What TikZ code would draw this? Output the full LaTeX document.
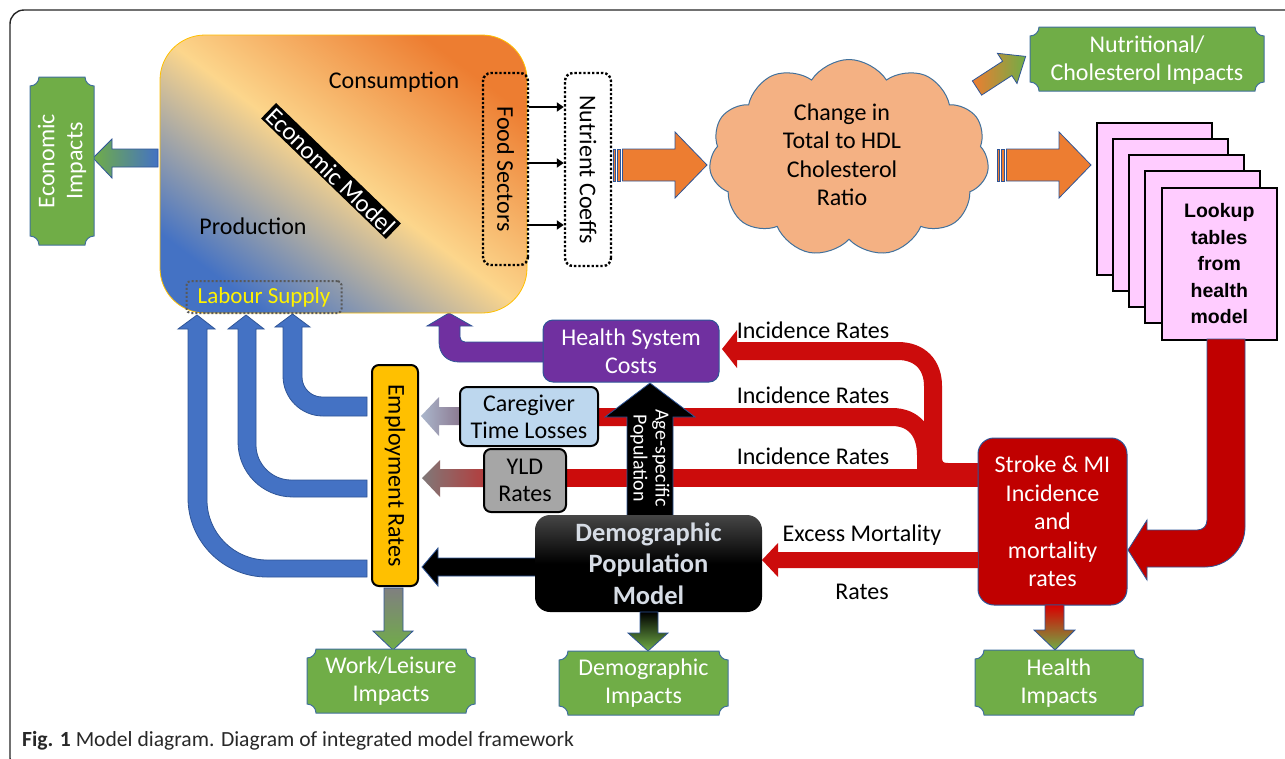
\documentclass[tikz,border=0pt]{standalone}
\usepackage{fontspec}
\setmainfont{Carlito}
\newfontfamily\arialfont{Liberation Sans}
\usetikzlibrary{shapes.symbols,arrows.meta}
\definecolor{pgreen}{RGB}{112,173,71}
\definecolor{pborder}{RGB}{65,113,156}
\definecolor{ecoblue}{RGB}{68,114,196}
\definecolor{ecoorange}{RGB}{237,125,49}
\definecolor{paleyel}{RGB}{252,214,140}
\definecolor{cloudfill}{RGB}{244,177,131}
\definecolor{stroker}{RGB}{192,0,0}
\definecolor{lred}{RGB}{204,12,12}
\definecolor{hpurple}{RGB}{112,48,160}
\definecolor{ltblue}{RGB}{189,215,238}
\definecolor{yldgray}{RGB}{166,166,166}
\definecolor{empyel}{RGB}{255,192,0}
\definecolor{pinkpage}{RGB}{255,204,255}
\definecolor{demotext}{RGB}{214,220,229}
\definecolor{bordblue}{RGB}{47,85,151}
\definecolor{capgray}{RGB}{40,40,40}
\newcommand\fsz[2]{\fontsize{#1}{#2}\selectfont}
\newcommand\plaque[4]{\draw[plaque] (#1+9,#2) -- (#3-9,#2) .. controls (#3-9,#2+5) and (#3-5,#2+9) .. (#3,#2+9) -- (#3,#4-9) .. controls (#3-5,#4-9) and (#3-9,#4-5) .. (#3-9,#4) -- (#1+9,#4) .. controls (#1+9,#4-5) and (#1+5,#4-9) .. (#1,#4-9) -- (#1,#2+9) .. controls (#1+5,#2+9) and (#1+9,#2+5) .. (#1+9,#2) -- cycle;}
\begin{document}
\begin{tikzpicture}[x=1pt,y=-1pt,
  plaque/.style={fill=pgreen,draw=pborder,line width=1},
  ptext/.style={text=white,align=center,font=\fsz{24}{28}},
  barrow/.style={draw=bordblue,line width=0.8},
  redline/.style={draw=lred,line width=18},
  smallarr/.style={-{Triangle[length=7,width=9]},line width=2.4},
  box/.style={draw=black,line width=2,rounded corners=7,inner sep=0,align=center,font=\fsz{24}{27}},
  page/.style={fill=pinkpage,draw=black,line width=1.6},
  lbl/.style={font=\fsz{24}{28}}]
\useasboundingbox (0,0) rectangle (1285,758);
\clip (0,0) rectangle (1285,758);
\fill[white] (0,0) rectangle (1285,758);
% frame
\draw[line width=1.4,black!85,rounded corners=14] (10,10) rectangle (1310,772);

% blue arrows to labour supply
\filldraw[fill=ecoblue,barrow] (367,397) -- (322,397) .. controls (311,397) and (302,388) .. (302,377) -- (302,327) -- (310,327) -- (292.5,314) -- (275,327) -- (283,327) -- (283,376) .. controls (283,398) and (301,416) .. (323,416) -- (367,416) -- cycle;
\filldraw[fill=ecoblue,barrow] (367,480) -- (291,480) .. controls (272,480) and (256,464) .. (256,445) -- (256,329) -- (264,329) -- (246,315) -- (228,329) -- (238,329) -- (238,442) .. controls (238,472) and (262,497) .. (293,497) -- (367,497) -- cycle;
\filldraw[fill=ecoblue,barrow] (367,560) -- (267,560) .. controls (234,560) and (207,533) .. (207,500) -- (207,329) -- (215,329) -- (197,315) -- (178,329) -- (188,329) -- (188,498) .. controls (188,541) and (223,577) .. (267,577) -- (367,577) -- cycle;
% purple arrow
\filldraw[fill=hpurple,barrow] (545,342) -- (465,342) .. controls (462,342) and (460,340) .. (460,337) -- (460,326) -- (472,326) -- (449,313) -- (427,326) -- (439,326) -- (439,342) .. controls (439,354) and (447,362) .. (459,362) -- (545,362) -- cycle;

% economic model
\shadedraw[draw=empyel,line width=0.8,rounded corners=45,top color=ecoorange,bottom color=ecoblue,middle color=paleyel,shading angle=-37] (160,35) rectangle (527,313);
\node[lbl] (cons) at (394,82) {Consumption};
\node[lbl] (prod) at (253,226) {Production};
\node[fill=black,text=white,rotate=-44,inner sep=2,font=\fsz{25}{28}] (econ) at (331,171) {Economic Model};
\node[draw=black!65,dotted,line width=2,rounded corners=4,minimum width=155,minimum height=32,text=yellow,font=\fsz{23}{26}] (labour) at (264,297) {Labour Supply};

% economic impacts
\shadedraw[left color=pgreen,right color=ecoblue,barrow] (158,149) -- (112,149) -- (112,139) -- (93,158) -- (112,178) -- (112,167) -- (158,167) -- cycle;
\plaque{30}{77}{94}{245}
\node[ptext,rotate=90] (econimp) at (62,161) {Economic\\Impacts};

% food sectors / nutrient coeffs
\node[draw=black,dotted,line width=2.4,rounded corners=8,rotate=-90,minimum width=192,minimum height=45,inner sep=0,font=\fsz{24}{26}] (food) at (505.5,169) {Food Sectors};
\node[draw=black,dotted,line width=2.4,rounded corners=8,fill=white,rotate=-90,minimum width=193,minimum height=46,inner sep=0,font=\fsz{24}{26}] (nut) at (588,169.5) {Nutrient Coeffs};
\coordinate (r1) at (0,107);
\coordinate (r2) at (0,163);
\coordinate (r3) at (0,225);
\draw[smallarr] (food.north |- r1) -- (nut.south |- r1);
\draw[smallarr] (food.north |- r2) -- (nut.south |- r2);
\draw[smallarr] (food.north |- r3) -- (nut.south |- r3);

% orange arrow 1
\filldraw[fill=ecoorange,barrow] (613,149) rectangle (615.5,181);
\filldraw[fill=ecoorange,barrow] (617.5,149) rectangle (620.5,181);
\filldraw[fill=ecoorange,barrow] (622.5,149) -- (675,149) -- (675,132) -- (707,165) -- (675,198) -- (675,181) -- (622.5,181) -- cycle;
% cloud
\node[cloud,cloud puffs=11,cloud puff arc=115,cloud ignores aspect,minimum width=280,minimum height=197,fill=cloudfill,draw=pborder,line width=1,inner sep=0] (cloud) at (849,158) {};
\node[align=center,font=\fsz{24}{28.5}] (cloudtxt) at (842,155) {Change in\\Total to HDL\\Cholesterol\\Ratio};
% orange arrow 2
\filldraw[fill=ecoorange,barrow] (997,149) rectangle (999.5,181);
\filldraw[fill=ecoorange,barrow] (1001.5,149) rectangle (1004.5,181);
\filldraw[fill=ecoorange,barrow] (1006.5,149) -- (1059,149) -- (1059,132) -- (1091,165) -- (1059,198) -- (1059,181) -- (1006.5,181) -- cycle;
% nutritional arrow
\begin{scope}[shift={(977,88)},rotate=33]
\shadedraw[left color=ecoorange,right color=pgreen,barrow] (0,-8.5) -- (36,-8.5) -- (36,-18) -- (58,0) -- (36,18) -- (36,8.5) -- (0,8.5) -- cycle;
\end{scope}
\plaque{1030}{27}{1264}{91}
\node[ptext] (nutimp) at (1147,60) {Nutritional/\\Cholesterol Impacts};

% lookup tables
\foreach \i in {0,...,3} \draw[page] (1097+16*\i,123+16*\i) rectangle ++(115,152);
\node[page,minimum width=115,minimum height=152,anchor=north west,inner sep=0,align=center,font=\arialfont\bfseries\fsz{19.5}{26.5}] (lookup) at (1161,187) {Lookup\\tables\\from\\health\\model};

% red arrow lookup -> stroke
\filldraw[fill=stroker,barrow] (1207,339) -- (1245,339) -- (1245,527) .. controls (1245,549) and (1227,567) .. (1205,567) -- (1147,567) -- (1147,580) -- (1128,550) -- (1147,520) -- (1147,530) -- (1197,530) .. controls (1203,530) and (1207,526) .. (1207,520) -- cycle;

% red incidence lines
\draw[redline] (985,472) -- (948,472) .. controls (938,472) and (933,467) .. (933,457) -- (933,386) .. controls (933,365) and (920,351) .. (898,351) -- (735,351);
\fill[lred] (737,330) -- (722,349) -- (737,368) -- cycle;
\draw[redline] (926,478) -- (926,455) .. controls (926,432) and (914,417) .. (892,417) -- (590,417);
\draw[redline] (985,478) -- (560,478);
\node[lbl] (inc1) at (813,330) {Incidence Rates};
\node[lbl] (inc2) at (813,395) {Incidence Rates};
\node[lbl] (inc3) at (813,456) {Incidence Rates};

% stroke box
\node[fill=stroker,draw=bordblue,line width=1,rounded corners=16,minimum width=149,minimum height=167,inner sep=0,align=center,text=white,font=\fsz{24}{28.5}] (stroke) at (1052.5,521.5) {Stroke \& MI\\Incidence\\and\\mortality\\rates};
% excess mortality arrow
\fill[lred] (978,552) -- (778,552) -- (778,543) -- (762,560) -- (778,577) -- (778,568) -- (978,568) -- cycle;
\node[lbl] (exc) at (862,535) {Excess Mortality};
\node[lbl] (rat) at (862,592) {Rates};
% health impacts
\shadedraw[top color=red!85!black,bottom color=pgreen,barrow] (1045,605) -- (1064,605) -- (1064,630) -- (1075,630) -- (1055,650) -- (1034,630) -- (1045,630) -- cycle;
\plaque{975}{650}{1143}{715}
\node[ptext] (healthimp) at (1059,683) {Health\\Impacts};

% health system costs
\node[fill=hpurple,draw=bordblue,line width=1,rounded corners=10,minimum width=176,minimum height=62,inner sep=0,align=center,text=white,font=\fsz{24}{28}] (hsc) at (631,351) {Health System\\Costs};
% caregiver
\shadedraw[left color={rgb,255:red,170;green,182;blue,204},right color={rgb,255:red,140;green,122;blue,145},draw=none] (460,407) -- (439,407) -- (439,397) -- (421,416) -- (439,436) -- (439,425) -- (460,425) -- cycle;
\node[box,fill=ltblue,minimum width=138,minimum height=59] (care) at (529,416.5) {Caregiver\\Time Losses};
% YLD
\shadedraw[left color={rgb,255:red,128;green,120;blue,120},right color={rgb,255:red,180;green,60;blue,60},draw=none] (486,469) -- (440,469) -- (440,460) -- (422,478) -- (440,497) -- (440,487) -- (486,487) -- cycle;
\node[box,fill=yldgray,minimum width=82,minimum height=63] (yld) at (525,480.5) {YLD\\Rates};
% employment
\node[box,fill=empyel,rotate=-90,minimum width=221,minimum height=46,font=\fsz{24}{26}] (emp) at (395,475.5) {Employment Rates};

% age-specific arrow
\filldraw[fill=black,barrow] (627,516) -- (627,417) -- (605,417) -- (650,383) -- (695,417) -- (673,417) -- (673,516) -- cycle;
\node[text=white,rotate=-90,align=center,font=\fsz{20}{22}] (agetxt) at (650,458) {Age-specific\\Population};

% demographic -> employment
\filldraw[fill=black,barrow] (536,558) -- (438,558) -- (438,548) -- (422,567) -- (438,586) -- (438,576) -- (536,576) -- cycle;
% demographic box
\node[top color={rgb,255:red,70;green,70;blue,70},bottom color=black,middle color=black,rounded corners=15,minimum width=227,minimum height=97,inner sep=0,align=center,text=demotext,font=\bfseries\fsz{26.5}{31.5}] (demo) at (648.5,563.5) {Demographic\\Population\\Model};

% work/leisure
\shadedraw[top color=black!50,bottom color=pgreen,barrow] (384,588) -- (403,588) -- (403,631) -- (413,631) -- (393,650) -- (373,631) -- (384,631) -- cycle;
\plaque{307}{649}{475}{713}
\node[ptext] (workimp) at (391,681) {Work/Leisure\\Impacts};
% demographic impacts
\shadedraw[top color=black,bottom color=pgreen,barrow] (640,612) -- (658,612) -- (658,633) -- (668,633) -- (648,651) -- (628,633) -- (640,633) -- cycle;
\plaque{559}{651}{728}{715}
\node[ptext] (demoimp) at (643.5,683) {Demographic\\Impacts};

% caption
\node[anchor=west,text=capgray,font=\fsz{21.6}{24},inner sep=0] (cap) at (22,741) {\textbf{Fig. 1} Model diagram. Diagram of integrated model framework};
\end{tikzpicture}
\end{document}
